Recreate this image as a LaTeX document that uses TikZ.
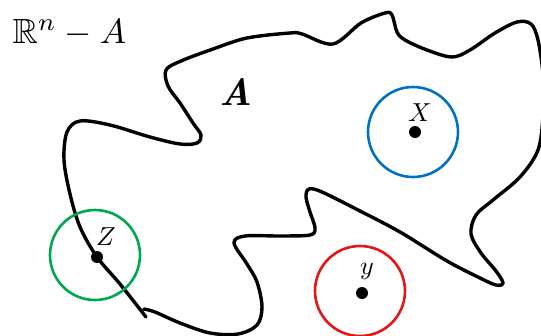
\documentclass[tikz,border=0pt]{standalone}
\usepackage{amssymb}
\usepackage{amsmath}
\definecolor{cblue}{RGB}{0,112,192}
\definecolor{cred}{RGB}{230,20,20}
\definecolor{cgreen}{RGB}{0,166,80}
\begin{document}
\begin{tikzpicture}[x=1pt,y=-1pt,
  boundary/.style={line width=3.4pt, black, line join=round, line cap=round},
  ball/.style={circle, draw, line width=2.6pt, minimum size=90pt, inner sep=0pt},
  pt/.style={circle, fill=black, minimum size=12pt, inner sep=0pt},
  lbl/.style={scale=2.6, inner sep=0pt}]
\useasboundingbox (0,0) rectangle (541,335);
\clip (0,0) rectangle (541,335);
\node[anchor=base west, inner sep=0pt, scale=3.5] (title) at (12,43) {$\mathbb{R}^n - A$};
\node[inner sep=0pt, scale=3.8, font=\bfseries\itshape] (setA) at (236,92) {A};
\draw[boundary] plot[smooth, tension=0.55] coordinates {
 (146,317) (120,284) (97,257) (80,227) (70,194) (64,160) (67,132) (80,121)
 (110,125) (150,137) (180,144) (197,143) (201,135) (193,123) (180,103)
 (168,86) (166,70) (181,61) (213,49) (247,38) (290,33) (302,34) (333,44)
 (361,23) (385,13) (392,15) (397,32) (405,40) (427,50) (452,57) (470,50)
 (495,33) (517,22) (531,24) (538,40) (543,75) (543,115) (538,150)
 (520,177) (493,200) (476,215) (471,234) (481,253) (496,271) (503,283)
 (496,285) (480,278) (447,261) (400,232) (360,211) (322,192) (309,189)
 (306,197) (310,212) (315,228) (310,235) (280,236) (245,236) (234,243)
 (247,264) (257,282) (262,307) (257,325) (238,334) (210,333) (180,323)
 (155,312) (144,309)};
\node[ball, draw=cblue] (bx) at (413,132) {};
\node[ball, draw=cred] (by) at (360,291) {};
\node[ball, draw=cgreen] (bz) at (95,255) {};
\node[pt] (px) at (415,132) {};
\node[pt] (py) at (362,293) {};
\node[pt] (pz) at (97,257) {};
\node[lbl] (lx) at (420,113) {$X$};
\node[lbl] (ly) at (367,271) {$y$};
\node[lbl] (lz) at (106,237) {$Z$};
\end{tikzpicture}
\end{document}
